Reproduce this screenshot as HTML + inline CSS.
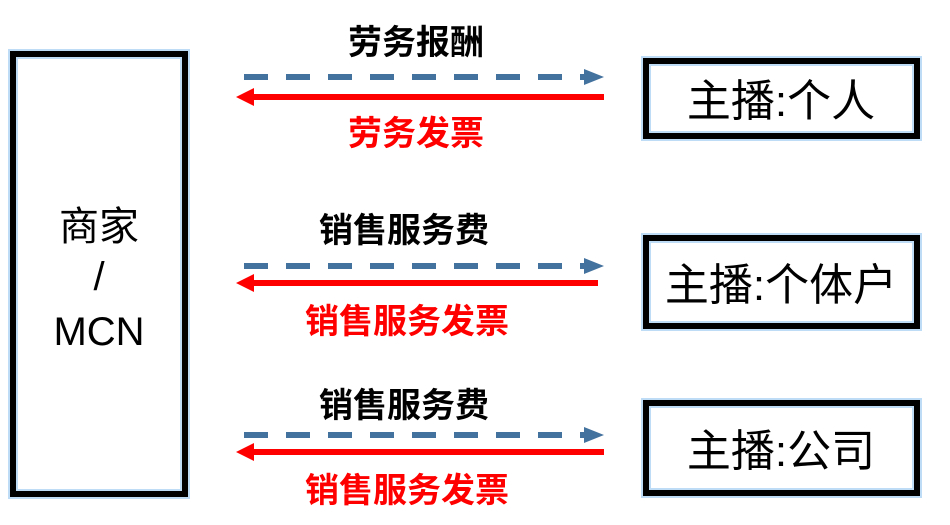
<!DOCTYPE html>
<html><head><meta charset="utf-8"><style>
html,body{margin:0;padding:0;background:#fff;width:950px;height:525px;overflow:hidden}
svg text{font-family:"Liberation Sans","Noto Sans CJK SC",sans-serif}
</style></head><body>
<svg width="950" height="525" viewBox="0 0 950 525">
<g fill="none">
<rect x="13" y="54" width="172" height="440" stroke="#bfdcf7" stroke-width="10"/>
<rect x="13" y="54" width="172" height="440" stroke="#000" stroke-width="6"/>
<rect x="646" y="61" width="271" height="75" stroke="#bfdcf7" stroke-width="10"/>
<rect x="646" y="61" width="271" height="75" stroke="#000" stroke-width="6"/>
<rect x="646" y="238" width="271" height="88" stroke="#bfdcf7" stroke-width="10"/>
<rect x="646" y="238" width="271" height="88" stroke="#000" stroke-width="6"/>
<rect x="646" y="403" width="271" height="90" stroke="#bfdcf7" stroke-width="10"/>
<rect x="646" y="403" width="271" height="90" stroke="#000" stroke-width="6"/>
</g>
<g stroke="#43729e" stroke-width="6" stroke-dasharray="24,18">
<line x1="244" y1="77" x2="584" y2="77"/>
<line x1="244" y1="266" x2="584" y2="266"/>
<line x1="244" y1="435" x2="584" y2="435"/>
</g>
<g fill="#43729e">
<path d="M584,69 L604,77 L584,85 z"/>
<path d="M584,258 L604,266 L584,274 z"/>
<path d="M584,427 L604,435 L584,443 z"/>
</g>
<g stroke="#f00" stroke-width="6">
<line x1="254" y1="97" x2="604" y2="97"/>
<line x1="254" y1="283" x2="598" y2="283"/>
<line x1="254" y1="452" x2="604" y2="452"/>
</g>
<g fill="#f00">
<path d="M254,88 L236,97 L254,106 z"/>
<path d="M254,274 L236,283 L254,292 z"/>
<path d="M254,443 L236,452 L254,461 z"/>
</g>
<g font-size="34" font-weight="bold" text-anchor="middle">
<text x="416" y="54" fill="#000">劳务报酬</text>
<text x="416" y="145" fill="#f00">劳务发票</text>
<text x="404" y="242" fill="#000">销售服务费</text>
<text x="407" y="333" fill="#f00">销售服务发票</text>
<text x="404" y="417" fill="#000">销售服务费</text>
<text x="407" y="502" fill="#f00">销售服务发票</text>
</g>
<g font-size="40" text-anchor="middle" fill="#000">
<text x="99" y="240">商家</text>
<text x="99" y="290">/</text>
<text x="99" y="345">MCN</text>
</g>
<g font-size="44" text-anchor="middle" fill="#000">
<text x="781" y="116">主播:个人</text>
<text x="781" y="300">主播:个体户</text>
<text x="781" y="466">主播:公司</text>
</g>
</svg>
</body></html>
